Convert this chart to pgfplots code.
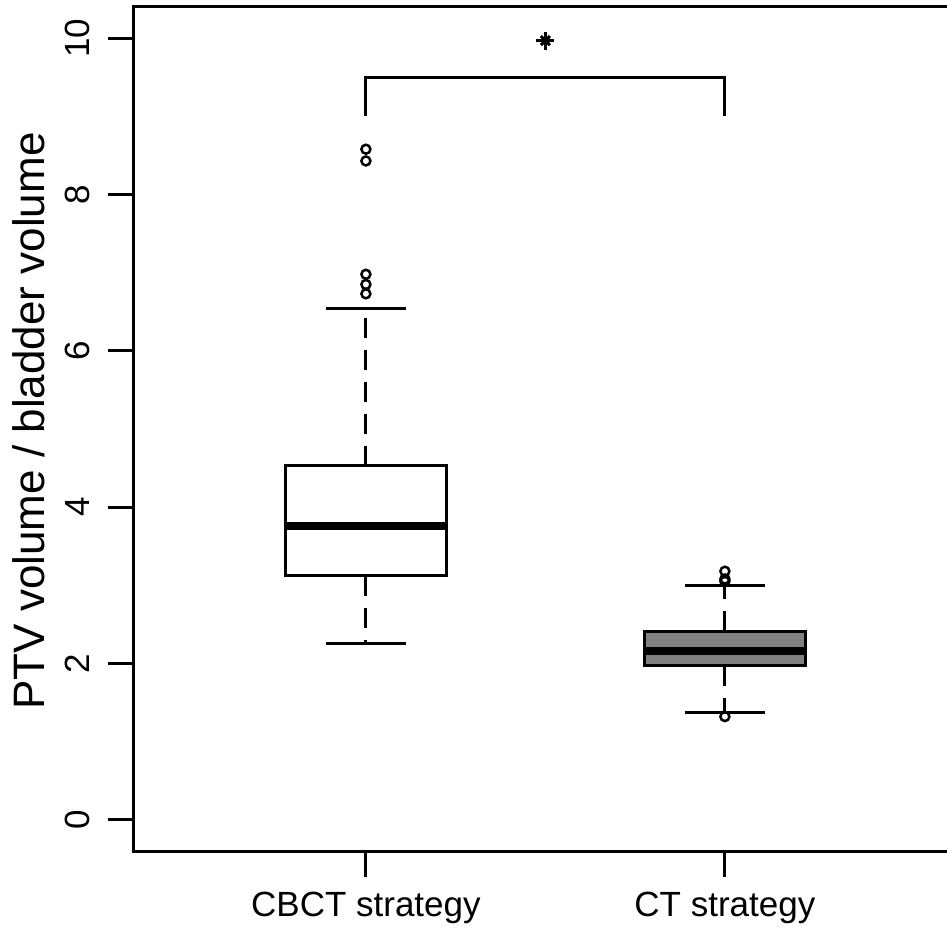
\documentclass[border=0pt]{standalone}
\usepackage{fontspec}
\setmainfont{Liberation Sans}
\usepackage{pgfplots}
\usepgfplotslibrary{statistics}
\pgfplotsset{compat=1.18}

\definecolor{rgray}{RGB}{128,128,128}

% R-style whiskers: dashed stem, solid cap
\pgfplotsset{
  rbox/.style={
    black, line width=3pt, solid,
    mark=o, mark size=4.5pt, mark options={line width=2.5pt, solid},
    boxplot/draw direction=y,
    boxplot/box extend=0.45,
    boxplot/whisker extend=0.225,
    boxplot/every median/.style={line width=8pt},
    boxplot/draw/lower whisker/.code={
      \draw[line width=3pt, dash pattern=on 20pt off 12pt]
        (boxplot box cs:\pgfplotsboxplotvalue{lower quartile},0.5) --
        (boxplot box cs:\pgfplotsboxplotvalue{lower whisker},0.5);
      \draw[line width=3pt]
        (boxplot whisker cs:\pgfplotsboxplotvalue{lower whisker},0) --
        (boxplot whisker cs:\pgfplotsboxplotvalue{lower whisker},1);
    },
    boxplot/draw/upper whisker/.code={
      \draw[line width=3pt, dash pattern=on 20pt off 12pt]
        (boxplot box cs:\pgfplotsboxplotvalue{upper quartile},0.5) --
        (boxplot box cs:\pgfplotsboxplotvalue{upper whisker},0.5);
      \draw[line width=3pt]
        (boxplot whisker cs:\pgfplotsboxplotvalue{upper whisker},0) --
        (boxplot whisker cs:\pgfplotsboxplotvalue{upper whisker},1);
    },
  },
}

\begin{document}
\begin{tikzpicture}
\begin{axis}[
    scale only axis,
    width=822.8pt, height=844pt,
    xmin=0.354, xmax=2.646,
    ymin=-0.4, ymax=10.4,
    xtick={1,2},
    xticklabels={CBCT strategy, CT strategy},
    ytick={0,2,4,6,8,10},
    tick pos=left,
    tick align=outside,
    major tick length=26pt,
    axis line style={line width=3pt},
    every tick/.style={black, line width=3pt},
    /pgf/number format/assume math mode=true,
    tick label style={font=\fontsize{35}{42}\selectfont},
    yticklabel style={rotate=90, anchor=south, inner ysep=18pt},
    xticklabel style={anchor=north, yshift=-12pt},
    ylabel={PTV volume / bladder volume},
    every axis y label/.style={at={(axis description cs:0,0.5)},
      xshift=-89pt, yshift=8pt, rotate=90, anchor=base,
      font=\fontsize{44}{52}\selectfont},
    clip=false,
]
% CBCT strategy
\addplot[rbox, boxplot/every box/.style={fill=white},
  boxplot prepared={draw position=1,
    lower whisker=2.25, lower quartile=3.12, median=3.76,
    upper quartile=4.53, upper whisker=6.54}]
  table[row sep=\\, y index=0] {data\\ 8.58\\ 8.43\\ 6.98\\ 6.85\\ 6.73\\};
% CT strategy
\addplot[rbox, boxplot/every box/.style={fill=rgray},
  boxplot prepared={draw position=2,
    lower whisker=1.37, lower quartile=1.97, median=2.16,
    upper quartile=2.41, upper whisker=3.00}]
  table[row sep=\\, y index=0] {data\\ 3.18\\ 3.08\\ 3.05\\ 1.32\\};
% significance bracket
\addplot[black, line width=3pt, mark=none] coordinates {(1,9) (1,9.5) (2,9.5) (2,9)};
\addplot[black, only marks, mark=+, mark size=9pt, mark options={line width=3pt}] coordinates {(1.5,9.97)};
\addplot[black, only marks, mark=x, mark size=6.4pt, mark options={line width=3pt}] coordinates {(1.5,9.97)};
\coordinate (o) at (rel axis cs:0,0);
\end{axis}
\pgfresetboundingbox
\useasboundingbox (o) ++(-134pt,-77pt) rectangle ++(947pt,928pt);
\end{tikzpicture}
\end{document}
